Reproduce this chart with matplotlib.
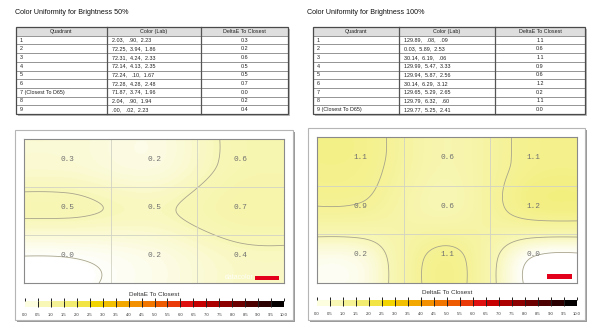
"""Colour uniformity report: two DeltaE heat maps with their tables."""

import numpy as np
import matplotlib

matplotlib.use("Agg")
import matplotlib.pyplot as plt
from matplotlib.cm import ScalarMappable
from matplotlib.colors import BoundaryNorm, LinearSegmentedColormap, ListedColormap
from matplotlib.patches import Rectangle

plt.rcParams["font.family"] = ["Liberation Sans", "DejaVu Sans"]

# ---- data -------------------------------------------------------------
titles = ["Color Uniformity for Brightness 50%", "Color Uniformity for Brightness 100%"]
header = ["Quadrant", "Color (Lab)", "DeltaE To Closest"]

quadrants_50 = ["1", "2", "3", "4", "5", "6", "7 (Closest To D65)", "8", "9"]
lab_50 = [
    "2.03,   .90,  2.23",
    "72.25,  3.94,  1.86",
    "72.31,  4.24,  2.33",
    "72.14,  4.13,  2.35",
    "72.24,   .10,  1.67",
    "72.28,  4.28,  2.48",
    "71.87,  3.74,  1.96",
    "2.04,   .90,  1.94",
    ".00,   .02,  2.23",
]
delta_50 = [0.3, 0.2, 0.6, 0.5, 0.5, 0.7, 0.0, 0.2, 0.4]
# unrounded estimates behind the one-decimal labels (drive the shading)
field_50 = [0.32, 0.22, 0.58, 0.54, 0.46, 0.68, 0.04, 0.18, 0.42]

quadrants_100 = ["1", "2", "3", "4", "5", "6", "7", "8", "9 (Closest To D65)"]
lab_100 = [
    "129.89,   .08,   .09",
    "0.03,  5.89,  2.53",
    "30.14,  6.19,   .06",
    "129.99,  5.47,  3.33",
    "129.94,  5.87,  2.56",
    "30.14,  6.29,  3.12",
    "129.65,  5.29,  2.65",
    "129.79,  6.32,   .60",
    "129.77,  5.25,  2.41",
]
delta_100 = [1.1, 0.6, 1.1, 0.9, 0.6, 1.2, 0.2, 1.1, 0.0]
field_100 = [1.14, 0.62, 1.12, 0.94, 0.58, 1.18, 0.22, 1.12, 0.02]

contour_levels = [0.05, 0.5, 1.0]

cb_ticks = [0.0, 0.5, 1.0, 1.5, 2.0, 2.5, 3.0, 3.5, 4.0, 4.5, 5.0,
            5.5, 6.0, 6.5, 7.0, 7.5, 8.0, 8.5, 9.0, 9.5, 10.0]
cb_colors = [
    "#fdfddf", "#f8f7b6", "#f5f296", "#f2ed70", "#f1e444",
    "#f2d400", "#f2c000", "#f3a800", "#f29000", "#f07600",
    "#ee5a00", "#ea3a0a", "#de1010", "#c60000", "#ac0000",
    "#8c0000", "#6c0000", "#4c0000", "#2c0000", "#050000",
]

# ---- layout (pixels of the 600x336 canvas) ------------------------------
W, H = 600, 336
panels = [
    dict(title_xy=(15, 12), table=(16, 27, 288, 114), cols=(107, 201),
         frame=(15, 130, 293, 320), inner=(24, 139, 284, 283),
         bar=(25, 301, 284, 307), red=(0.888, 0.02, 0.092, 0.03),
         quads=quadrants_50, lab=lab_50, delta=delta_50, field=field_50, mark=True),
    dict(title_xy=(307, 12), table=(313, 27, 585, 114), cols=(399, 495),
         frame=(308, 128, 585, 320), inner=(317, 137, 577, 283),
         bar=(317, 300, 577, 306), red=(0.885, 0.03, 0.095, 0.035),
         quads=quadrants_100, lab=lab_100, delta=delta_100, field=field_100, mark=False),
]

# continuous shading: white at 0, then each step colour at its lower tick
smooth_cmap = LinearSegmentedColormap.from_list(
    "deltae",
    [(0.0, "#ffffff")] + [(t / 10.0, c) for t, c in zip(cb_ticks[1:-1], cb_colors[1:])]
    + [(1.0, "#000000")],
)
step_cmap = ListedColormap(cb_colors)
step_norm = BoundaryNorm(cb_ticks, step_cmap.N)

fig = plt.figure(figsize=(W / 100, H / 100), dpi=100)
bg = fig.add_axes([0, 0, 1, 1])
bg.set_xlim(0, W)
bg.set_ylim(H, 0)
bg.axis("off")


def px_axes(x0, y0, x1, y1):
    return fig.add_axes([x0 / W, 1 - y1 / H, (x1 - x0) / W, (y1 - y0) / H])


def keys_weights(u, n=3, a=-0.5):
    # bicubic (Catmull-Rom) resampling weights of n cell centres, edge clamped
    pos = u - 0.5
    base = np.floor(pos).astype(int)
    wts = np.zeros((u.size, n))
    for off in range(-1, 3):
        k = base + off
        s = np.abs(pos - k)
        w = np.where(s <= 1, (a + 2) * s**3 - (a + 3) * s**2 + 1,
                     np.where(s < 2, a * s**3 - 5 * a * s**2 + 8 * a * s - 4 * a, 0.0))
        np.add.at(wts, (np.arange(u.size), np.clip(k, 0, n - 1)), w)
    return wts


def draw_table(p):
    x0, y0, x1, y1 = p["table"]
    c1, c2 = p["cols"]
    rh = (y1 - y0) / 10
    bg.add_patch(Rectangle((x0 + 2, y0 + 2), x1 - x0, y1 - y0, fc="#bdbdbd", ec="none", zorder=1))
    bg.add_patch(Rectangle((x0, y0), x1 - x0, y1 - y0, fc="white", ec="none", zorder=2))
    bg.add_patch(Rectangle((x0, y0), x1 - x0, rh, fc="#dedede", ec="none", zorder=2))
    for i in range(1, 10):
        bg.plot([x0, x1], [y0 + i * rh] * 2, color="#6a6a6a", lw=0.5, zorder=3)
    for cx in (c1, c2):
        bg.plot([cx, cx], [y0, y1], color="#555555", lw=0.9, zorder=3)
    bg.add_patch(Rectangle((x0, y0), x1 - x0, y1 - y0, fc="none", ec="#4a4a4a", lw=0.9, zorder=4))
    centers = [(x0 + c1) / 2, (c1 + c2) / 2, (c2 + x1) / 2]
    for cx, lab in zip(centers, header):
        bg.text(cx, y0 + rh / 2, lab, ha="center", va="center", fontsize=3.9, color="#222222", zorder=5)
    for i, (q, lab, d) in enumerate(zip(p["quads"], p["lab"], p["delta"])):
        yc = y0 + (i + 1.5) * rh
        bg.text(x0 + 4, yc, q, ha="left", va="center", fontsize=3.9, color="#222222", zorder=5)
        bg.text(c1 + 5, yc, lab, ha="left", va="center", fontsize=3.9, color="#222222", zorder=5)
        bg.text((c2 + x1) / 2, yc, f"{d:.1f}", ha="center", va="center", fontsize=3.9,
                color="#222222", zorder=5)


def draw_map(p):
    fx0, fy0, fx1, fy1 = p["frame"]
    bg.add_patch(Rectangle((fx0 + 2, fy0 + 2), fx1 - fx0, fy1 - fy0, fc="#9a9a9a", ec="none", zorder=1))
    bg.add_patch(Rectangle((fx0, fy0), fx1 - fx0, fy1 - fy0, fc="white", ec="#b5b5b5", lw=0.8, zorder=2))

    ax = px_axes(*p["inner"])
    xs = np.linspace(0, 3, 300)
    ys = np.linspace(0, 3, 180)
    grid = np.array(p["field"]).reshape(3, 3)
    Z = keys_weights(ys) @ grid @ keys_weights(xs).T
    X, Y = np.meshgrid(xs, ys)
    ax.imshow(np.clip(Z, 0, None), extent=(0, 3, 3, 0), cmap=smooth_cmap, vmin=0, vmax=10,
              aspect="auto", interpolation="bilinear")
    ax.contour(X, Y, Z, levels=contour_levels, colors="#a8a48c", linewidths=0.6)
    for k in (1, 2):
        ax.axvline(k, color="#d2d2c4", lw=0.6)
        ax.axhline(k, color="#d2d2c4", lw=0.6)
    for i, d in enumerate(p["delta"]):
        r, c = divmod(i, 3)
        ax.text(c + 0.5, r + 0.42, f"{d:.1f}", ha="center", va="center",
                family=["Liberation Mono", "DejaVu Sans Mono"], fontsize=5.6, color="#707070")
    rx, ry, rw, rh = p["red"]
    ax.add_patch(Rectangle((rx, ry), rw, rh, transform=ax.transAxes, fc="#e3001b", ec="none"))
    if p["mark"]:
        ax.text(rx - 0.005, ry + rh / 2, "datacolor", transform=ax.transAxes, ha="right",
                va="center", fontsize=5, color="white", alpha=0.85)
    ax.set_xlim(0, 3)
    ax.set_ylim(3, 0)
    ax.set_xticks([])
    ax.set_yticks([])
    for s in ax.spines.values():
        s.set_color("#8a8a8a")
        s.set_linewidth(0.8)

    bx0, by0, bx1, by1 = p["bar"]
    bg.text((bx0 + bx1) / 2, by0 - 7, "DeltaE To Closest", ha="center", va="center",
            fontsize=4.6, color="#333333", zorder=5)
    cax = px_axes(*p["bar"])
    cb = fig.colorbar(ScalarMappable(norm=step_norm, cmap=step_cmap), cax=cax,
                      orientation="horizontal", ticks=cb_ticks, drawedges=True)
    cb.outline.set_visible(False)
    cb.dividers.set_color("#222222")
    cb.dividers.set_linewidth(0.7)
    cax.set_xticklabels([f"{t:.1f}" for t in cb_ticks])
    cax.tick_params(axis="x", top=True, bottom=False, direction="out", length=2.2,
                    width=0.7, color="#222222", labeltop=False, labelbottom=True,
                    labelsize=3, pad=2, labelcolor="#333333")


for idx, p in enumerate(panels):
    bg.text(p["title_xy"][0], p["title_xy"][1], titles[idx],
            ha="left", va="center", fontsize=5.1, color="#111111")
    draw_table(p)
    draw_map(p)

fig.savefig("out.png", dpi=100)
